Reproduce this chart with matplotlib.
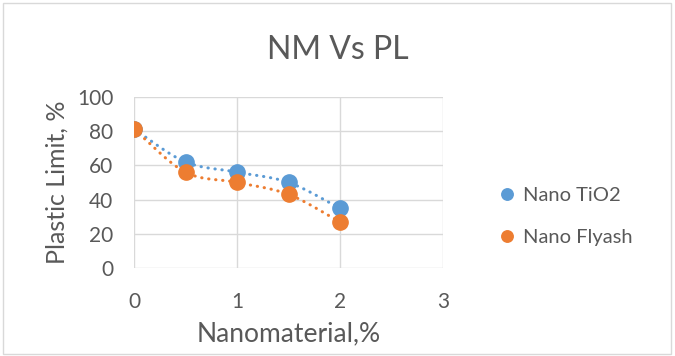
import matplotlib
matplotlib.use('Agg')
import matplotlib.pyplot as plt
import numpy as np

plt.rcParams['font.family'] = ['Lato', 'DejaVu Sans']

x_nano = [0, 0.5, 1, 1.5, 2]
tio2 = [81, 62, 56, 50, 35]
flyash = [81, 56, 50, 43, 27]
series_names = ['Nano TiO2', 'Nano Flyash']
colores = ['#5B9BD5', '#ED7D31']


def suave(x, y, n=20):
    # curva suavizada (catmull-rom) so para desenhar a linha pontilhada
    x = np.asarray(x, float); y = np.asarray(y, float)
    px = np.concatenate([[2*x[0]-x[1]], x, [2*x[-1]-x[-2]]])
    py = np.concatenate([[2*y[0]-y[1]], y, [2*y[-1]-y[-2]]])
    xs, ys = [], []
    t = np.linspace(0, 1, n)
    for i in range(1, len(px)-2):
        for p, out in ((px, xs), (py, ys)):
            p0, p1, p2, p3 = p[i-1], p[i], p[i+1], p[i+2]
            out.extend(0.5*((2*p1) + (-p0+p2)*t + (2*p0-5*p1+4*p2-p3)*t**2 + (-p0+3*p1-3*p2+p3)*t**3))
    return xs, ys


fig = plt.figure(figsize=(6.75, 3.56), dpi=100)
ax = fig.add_axes([0.1985, 0.247, 0.458, 0.481])

for ys, nome, cor in zip([tio2, flyash], series_names, colores):
    sx, sy = suave(x_nano, ys)
    ax.plot(sx, sy, color=cor, lw=2.2, linestyle=(0, (0.1, 2.2)), dash_capstyle='round', zorder=2)
    ax.plot(x_nano, ys, 'o', color=cor, markersize=11, label=nome, zorder=3)

ax.set_xlim(0, 3)
ax.set_ylim(0, 100)
ax.set_xticks([0, 1, 2, 3])
ax.set_yticks([0, 20, 40, 60, 80, 100])
ax.grid(True, color='#d9d9d9', lw=1)
ax.set_axisbelow(True)
for s in ax.spines.values():
    s.set_visible(False)
ax.tick_params(length=0, labelsize=15, colors='#595959')
ax.tick_params(axis='x', pad=17)
ax.tick_params(axis='y', pad=15)

ax.set_xlabel('Nanomaterial,%', fontsize=19, color='#595959', labelpad=7)
ax.set_ylabel('Plastic Limit, %', fontsize=18, color='#595959', labelpad=6)
fig.text(0.5, 0.86, 'NM Vs PL', fontsize=23, color='#595959', ha='center', va='center')

leg = ax.legend(loc='center left', bbox_to_anchor=(1.12, 0.3), frameon=False, fontsize=14.5,
                labelcolor='#595959', handlelength=0.9, handletextpad=0.3,
                markerscale=0.75, labelspacing=1.25)

fig.patches.append(plt.Rectangle((0.004, 0.006), 0.99, 0.986, transform=fig.transFigure,
                                 fill=False, edgecolor='#d9d9d9', lw=1))

fig.savefig('out.png', dpi=100)
